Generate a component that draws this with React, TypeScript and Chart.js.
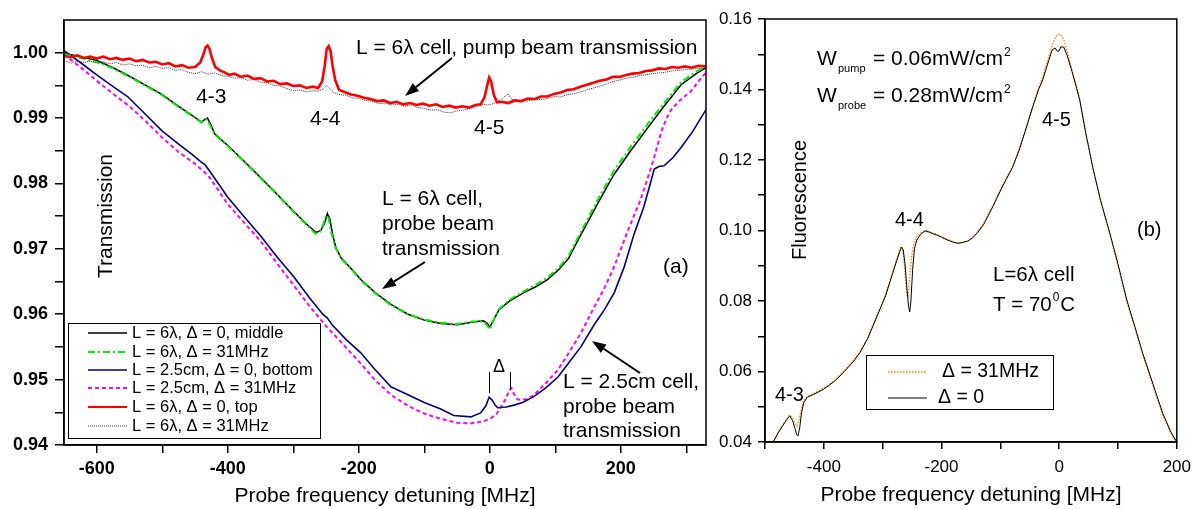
import React, { useEffect, useRef } from "react";
import { Chart, registerables } from "chart.js";
Chart.register(...registerables);

const FONT = '"Liberation Sans", Arial, Helvetica, sans-serif';

// ---------- Panel (a) data: [detuning MHz, transmission] ----------
const MIDDLE_6L_D0: [number, number][] = [
  [-650,0.9999],[-625,0.9994],[-600,0.9988],[-575,0.9977],[-550,0.9964],[-525,0.9950],[-500,0.9936],[-475,0.9918],[-450,0.9901],[-440,0.9894],
  [-435,0.9898],[-431,0.9900],[-426,0.9890],[-420,0.9876],[-400,0.9858],[-375,0.9834],[-350,0.9809],[-325,0.9784],[-300,0.9758],[-280,0.9738],
  [-265,0.9725],[-258,0.9728],[-252,0.9740],[-248,0.9754],[-244,0.9745],[-240,0.9722],[-235,0.9702],[-227,0.9686],[-210,0.9668],[-197,0.9653],
  [-175,0.9633],[-151,0.9615],[-125,0.9600],[-100,0.9591],[-75,0.9586],[-50,0.9584],[-25,0.9588],[-10,0.9590],[-4,0.9586],[0,0.9580],
  [4,0.9588],[14,0.9607],[30,0.9620],[52,0.9633],[70,0.9642],[88,0.9653],[105,0.9668],[120,0.9685],[135,0.9714],[150,0.9742],
  [165,0.9770],[189,0.9813],[215,0.9850],[241,0.9885],[265,0.9917],[292,0.9951],[315,0.9968],[330,0.9977]
];
const MIDDLE_6L_D31: [number, number][] = [
  [-650,0.9998],[-625,0.9992],[-600,0.9986],[-575,0.9976],[-550,0.9963],[-525,0.9949],[-500,0.9935],[-475,0.9917],[-450,0.9900],[-440,0.9893],
  [-436,0.9897],[-432,0.9898],[-427,0.9889],[-420,0.9875],[-400,0.9857],[-375,0.9833],[-350,0.9808],[-325,0.9783],[-300,0.9757],[-280,0.9737],
  [-266,0.9723],[-259,0.9726],[-254,0.9738],[-250,0.9751],[-246,0.9747],[-242,0.9725],[-236,0.9703],[-227,0.9685],[-210,0.9667],[-197,0.9652],
  [-175,0.9632],[-151,0.9614],[-125,0.9600],[-100,0.9592],[-75,0.9587],[-50,0.9585],[-25,0.9589],[-10,0.9589],[-4,0.9583],[0,0.9577],
  [4,0.9587],[14,0.9608],[30,0.9622],[52,0.9635],[70,0.9645],[88,0.9656],[105,0.9671],[120,0.9689],[135,0.9718],[150,0.9747],
  [165,0.9776],[189,0.9819],[215,0.9856],[241,0.9891],[265,0.9922],[292,0.9955],[315,0.9971],[330,0.9979]
];
const BOTTOM_25_D0: [number, number][] = [
  [-650,1.0003],[-625,0.9985],[-600,0.9966],[-575,0.9948],[-553,0.9933],[-525,0.9905],[-500,0.9880],[-475,0.9860],[-455,0.9845],[-441,0.9833],
  [-435,0.9829],[-430,0.9822],[-420,0.9808],[-400,0.9779],[-375,0.9749],[-350,0.9720],[-325,0.9688],[-299,0.9657],[-275,0.9625],[-255,0.9600],
  [-248,0.9594],[-240,0.9583],[-220,0.9562],[-197,0.9541],[-175,0.9515],[-151,0.9489],[-125,0.9477],[-100,0.9465],[-75,0.9455],[-55,0.9445],
  [-29,0.9443],[-14,0.9449],[-6,0.9460],[-1,0.9473],[4,0.9468],[8,0.9461],[12,0.9457],[25,0.9458],[37,0.9461],[50,0.9465],
  [67,0.9474],[85,0.9487],[104,0.9504],[120,0.9525],[139,0.9550],[160,0.9585],[175,0.9607],[190,0.9633],[205,0.9672],[220,0.9722],
  [235,0.9764],[245,0.9800],[251,0.9822],[258,0.9826],[266,0.9827],[280,0.9840],[292,0.9855],[310,0.9880],[330,0.9913]
];
const BOTTOM_25_D31: [number, number][] = [
  [-650,0.9997],[-625,0.9978],[-600,0.9957],[-575,0.9937],[-550,0.9918],[-525,0.9895],[-500,0.9870],[-475,0.9848],[-450,0.9830],[-441,0.9822],
  [-430,0.9812],[-420,0.9798],[-400,0.9768],[-375,0.9740],[-350,0.9712],[-325,0.9678],[-300,0.9645],[-275,0.9612],[-250,0.9582],[-225,0.9555],
  [-200,0.9528],[-175,0.9499],[-150,0.9476],[-125,0.9460],[-100,0.9448],[-75,0.9440],[-50,0.9434],[-30,0.9433],[-10,0.9436],[0,0.9440],
  [10,0.9447],[17,0.9458],[24,0.9470],[30,0.9484],[33,0.9487],[37,0.9478],[42,0.9470],[47,0.9469],[55,0.9470],[67,0.9476],
  [85,0.9494],[104,0.9515],[120,0.9540],[139,0.9571],[160,0.9612],[175,0.9640],[190,0.9673],[210,0.9726],[230,0.9775],[240,0.9805],
  [251,0.9840],[262,0.9880],[270,0.9900],[277,0.9913],[290,0.9927],[307,0.9941],[320,0.9958],[330,0.9970]
];
const TOP_6L_D0: [number, number][] = [
  [-650,0.9995],[-640,0.9993],[-630,0.9996],[-620,0.9992],[-610,0.9994],[-600,0.9991],[-590,0.9994],[-580,0.9990],[-570,0.9992],[-560,0.9989],
  [-550,0.9991],[-540,0.9987],[-530,0.9989],[-520,0.9985],[-510,0.9986],[-500,0.9982],[-490,0.9984],[-480,0.9979],[-470,0.9981],[-460,0.9977],
  [-450,0.9978],[-442,0.9985],[-437,0.9998],[-434,1.0008],[-431,1.0011],[-428,1.0006],[-424,0.9991],[-419,0.9978],[-412,0.9973],[-405,0.9970],
  [-398,0.9966],[-390,0.9968],[-380,0.9963],[-370,0.9965],[-360,0.9960],[-350,0.9961],[-340,0.9956],[-330,0.9957],[-320,0.9952],[-310,0.9953],
  [-300,0.9949],[-290,0.9950],[-280,0.9946],[-270,0.9948],[-262,0.9946],[-256,0.9956],[-252,0.9980],[-249,1.0006],[-246,1.0010],[-243,1.0002],
  [-240,0.9980],[-236,0.9958],[-230,0.9943],[-222,0.9940],[-212,0.9936],[-202,0.9934],[-192,0.9931],[-182,0.9929],[-172,0.9926],[-162,0.9927],
  [-152,0.9923],[-142,0.9925],[-132,0.9921],[-122,0.9923],[-112,0.9920],[-102,0.9922],[-92,0.9919],[-82,0.9921],[-72,0.9917],[-62,0.9919],
  [-52,0.9916],[-42,0.9918],[-32,0.9916],[-22,0.9920],[-14,0.9921],[-8,0.9932],[-4,0.9950],[-1,0.9962],[2,0.9956],[6,0.9936],
  [11,0.9924],[18,0.9925],[28,0.9923],[38,0.9927],[48,0.9926],[58,0.9930],[68,0.9929],[78,0.9933],[88,0.9933],[98,0.9937],
  [108,0.9939],[118,0.9943],[128,0.9944],[138,0.9948],[148,0.9951],[158,0.9954],[168,0.9957],[178,0.9959],[188,0.9963],[198,0.9963],
  [208,0.9966],[218,0.9968],[228,0.9969],[238,0.9972],[248,0.9973],[258,0.9976],[268,0.9975],[278,0.9978],[288,0.9977],[298,0.9979],
  [308,0.9977],[318,0.9980],[330,0.9979]
];
const TOP_6L_D31: [number, number][] = [
  [-650,0.9988],[-640,0.9984],[-630,0.9987],[-620,0.9985],[-610,0.9987],[-600,0.9984],[-590,0.9986],[-580,0.9983],[-570,0.9985],[-560,0.9981],
  [-550,0.9983],[-540,0.9980],[-530,0.9981],[-520,0.9977],[-510,0.9979],[-500,0.9976],[-490,0.9977],[-480,0.9973],[-470,0.9974],[-460,0.9970],
  [-450,0.9968],[-440,0.9971],[-430,0.9967],[-420,0.9969],[-410,0.9965],[-400,0.9964],[-390,0.9961],[-380,0.9962],[-370,0.9958],[-360,0.9959],
  [-350,0.9955],[-340,0.9954],[-330,0.9950],[-320,0.9949],[-310,0.9945],[-300,0.9942],[-290,0.9943],[-280,0.9940],[-270,0.9942],[-262,0.9941],
  [-255,0.9944],[-249,0.9950],[-244,0.9945],[-238,0.9939],[-230,0.9936],[-220,0.9935],[-210,0.9931],[-200,0.9930],[-190,0.9927],[-180,0.9926],
  [-170,0.9922],[-160,0.9923],[-150,0.9920],[-140,0.9921],[-130,0.9918],[-120,0.9920],[-110,0.9916],[-100,0.9915],[-90,0.9912],[-80,0.9913],
  [-70,0.9909],[-60,0.9908],[-50,0.9911],[-40,0.9912],[-30,0.9915],[-20,0.9918],[-10,0.9921],[0,0.9920],[10,0.9924],[18,0.9929],
  [24,0.9934],[28,0.9937],[32,0.9931],[38,0.9925],[48,0.9927],[58,0.9926],[68,0.9929],[78,0.9928],[88,0.9930],[98,0.9933],
  [108,0.9932],[118,0.9936],[128,0.9937],[138,0.9940],[148,0.9943],[158,0.9946],[168,0.9949],[178,0.9952],[188,0.9956],[198,0.9958],
  [208,0.9961],[218,0.9962],[228,0.9965],[238,0.9966],[248,0.9968],[258,0.9969],[268,0.9970],[278,0.9972],[288,0.9973],[298,0.9974],
  [308,0.9975],[318,0.9976],[330,0.9977]
];

// ---------- Panel (b) data: [detuning MHz, fluorescence] ----------
const FLUO_D0: [number, number][] = [
  [-486,0.0400],[-478,0.0425],[-470,0.0446],[-462,0.0466],[-458,0.0474],[-453,0.0460],[-449,0.0438],[-446,0.0420],[-444,0.0417],[-441,0.0440],
  [-438,0.0482],[-434,0.0512],[-428,0.0527],[-415,0.0537],[-400,0.0550],[-390,0.0562],[-380,0.0575],[-365,0.0600],[-350,0.0628],[-339,0.0652],
  [-325,0.0695],[-310,0.0755],[-295,0.0815],[-283,0.0879],[-276,0.0915],[-271,0.0940],[-268,0.0953],[-265,0.0945],[-262,0.0905],[-259,0.0840],
  [-256,0.0785],[-254,0.0769],[-252,0.0800],[-249,0.0890],[-246,0.0948],[-242,0.0973],[-236,0.0988],[-228,0.0999],[-222,0.0996],[-215,0.0991],
  [-208,0.0987],[-200,0.0981],[-190,0.0973],[-180,0.0967],[-172,0.0964],[-165,0.0966],[-155,0.0970],[-147,0.0979],[-138,0.0995],[-128,0.1018],
  [-113,0.1067],[-100,0.1112],[-90,0.1145],[-79,0.1180],[-68,0.1228],[-58,0.1280],[-45,0.1350],[-35,0.1400],[-28,0.1427],[-20,0.1470],
  [-12,0.1512],[-7,0.1518],[-3,0.1508],[0,0.1510],[3,0.1521],[8,0.1520],[14,0.1495],[22,0.1450],[30,0.1402],[35,0.1370],
  [45,0.1278],[57,0.1180],[70,0.1088],[86,0.0993],[100,0.0905],[115,0.0803],[130,0.0720],[142,0.0652],[160,0.0562],[176,0.0482],
  [190,0.0428],[200,0.0400]
];
const FLUO_D31: [number, number][] = [
  [-486,0.0400],[-478,0.0427],[-470,0.0448],[-462,0.0468],[-458,0.0477],[-453,0.0468],[-449,0.0452],[-446,0.0446],[-443,0.0456],[-439,0.0488],
  [-435,0.0515],[-428,0.0530],[-415,0.0540],[-400,0.0553],[-390,0.0565],[-380,0.0578],[-365,0.0603],[-350,0.0631],[-339,0.0655],[-325,0.0698],
  [-310,0.0758],[-295,0.0818],[-283,0.0882],[-276,0.0920],[-271,0.0948],[-268,0.0955],[-265,0.0935],[-262,0.0880],[-259,0.0818],[-257,0.0812],
  [-255,0.0850],[-251,0.0925],[-247,0.0965],[-242,0.0982],[-236,0.0993],[-228,0.1000],[-222,0.0998],[-215,0.0993],[-208,0.0989],[-200,0.0982],
  [-190,0.0975],[-180,0.0968],[-172,0.0962],[-165,0.0965],[-155,0.0971],[-147,0.0981],[-138,0.0998],[-128,0.1021],[-113,0.1070],[-100,0.1115],
  [-90,0.1148],[-79,0.1183],[-68,0.1231],[-58,0.1283],[-45,0.1353],[-35,0.1405],[-28,0.1435],[-20,0.1480],[-12,0.1525],[-7,0.1545],
  [-3,0.1556],[0,0.1557],[3,0.1555],[8,0.1540],[14,0.1505],[22,0.1455],[30,0.1405],[35,0.1372],[45,0.1280],[57,0.1180],
  [70,0.1086],[86,0.0990],[100,0.0900],[115,0.0798],[130,0.0715],[142,0.0647],[160,0.0556],[176,0.0476],[190,0.0424],[200,0.0398]
];

// ---------- Ticks ----------
const A_X_TICKS = [-600, -500, -400, -300, -200, -100, 0, 100, 200, 300];
const A_Y_TICKS = [0.94, 0.945, 0.95, 0.955, 0.96, 0.965, 0.97, 0.975, 0.98, 0.985, 0.99, 0.995, 1.0];
const B_X_TICKS = [-500, -400, -300, -200, -100, 0, 100, 200];
const B_Y_TICKS = [0.04, 0.05, 0.06, 0.07, 0.08, 0.09, 0.10, 0.11, 0.12, 0.13, 0.14, 0.15, 0.16];

const LEGEND_A = [
  "L = 6\u03bb, \u0394 = 0, middle",
  "L = 6\u03bb, \u0394 = 31MHz",
  "L = 2.5cm, \u0394 = 0, bottom",
  "L = 2.5cm, \u0394 = 31MHz",
  "L = 6\u03bb, \u0394 = 0, top",
  "L = 6\u03bb, \u0394 = 31MHz",
];
const LEGEND_B = ["\u0394 = 31MHz", "\u0394 = 0"];

const pts = (a: [number, number][]) => a.map(([x, y]) => ({ x, y }));

function font(size: number, bold = false) {
  return `${bold ? "bold " : ""}${size}px ${FONT}`;
}
function text(ctx: CanvasRenderingContext2D, s: string, x: number, y: number, size: number, align: CanvasTextAlign = "left", base: CanvasTextBaseline = "middle") {
  ctx.font = font(size);
  ctx.textAlign = align;
  ctx.textBaseline = base;
  ctx.fillStyle = "#000";
  ctx.fillText(s, x, y);
  return ctx.measureText(s).width;
}
function arrow(ctx: CanvasRenderingContext2D, x1: number, y1: number, x2: number, y2: number) {
  const ang = Math.atan2(y2 - y1, x2 - x1);
  const L = 14, W = 5;
  const bx = x2 - L * Math.cos(ang), by = y2 - L * Math.sin(ang);
  ctx.strokeStyle = "#000";
  ctx.lineWidth = 2;
  ctx.setLineDash([]);
  ctx.beginPath();
  ctx.moveTo(x1, y1);
  ctx.lineTo(bx, by);
  ctx.stroke();
  ctx.fillStyle = "#000";
  ctx.beginPath();
  ctx.moveTo(x2, y2);
  ctx.lineTo(bx + W * Math.sin(ang), by - W * Math.cos(ang));
  ctx.lineTo(bx - W * Math.sin(ang), by + W * Math.cos(ang));
  ctx.closePath();
  ctx.fill();
}
function seg(ctx: CanvasRenderingContext2D, x1: number, x2: number, y: number, color: string, w: number, dash: number[]) {
  ctx.strokeStyle = color;
  ctx.lineWidth = w;
  ctx.setLineDash(dash);
  ctx.beginPath();
  ctx.moveTo(x1, y);
  ctx.lineTo(x2, y);
  ctx.stroke();
  ctx.setLineDash([]);
}

const STYLE_A = [
  { color: "#000000", w: 1.5, dash: [] as number[] },
  { color: "#00ee00", w: 2, dash: [7, 3, 2, 3] },
  { color: "#000080", w: 1.6, dash: [] as number[] },
  { color: "#ff00ff", w: 2, dash: [4, 3] },
  { color: "#ff0000", w: 2.6, dash: [] as number[] },
  { color: "#000000", w: 0.8, dash: [1, 1] },
];

const annotA = {
  id: "annotA",
  afterDatasetsDraw(chart: any) {
    const ctx: CanvasRenderingContext2D = chart.ctx;
    const a = chart.chartArea;
    ctx.save();
    ctx.strokeStyle = "#000";
    ctx.lineWidth = 1.5;
    ctx.strokeRect(a.left, a.top, a.right - a.left, a.bottom - a.top);

    text(ctx, "Probe frequency detuning [MHz]", (a.left + a.right) / 2, 496, 21, "center");
    ctx.save();
    ctx.translate(106, 216);
    ctx.rotate(-Math.PI / 2);
    text(ctx, "Transmission", 0, 0, 21, "center");
    ctx.restore();

    text(ctx, "L = 6\u03bb cell, pump beam transmission", 356, 48, 21);
    arrow(ctx, 452, 58, 405, 96);
    text(ctx, "4-3", 196, 97, 21);
    text(ctx, "4-4", 310, 119, 21);
    text(ctx, "4-5", 474, 128, 21);
    text(ctx, "L = 6\u03bb cell,", 382, 199, 21);
    text(ctx, "probe beam", 382, 224, 21);
    text(ctx, "transmission", 382, 249, 21);
    arrow(ctx, 425, 262, 382, 289);
    text(ctx, "(a)", 663, 267, 21);
    text(ctx, "\u0394", 499, 367, 18, "center");
    ctx.strokeStyle = "#000";
    ctx.lineWidth = 1;
    ctx.beginPath();
    ctx.moveTo(489.5, 372); ctx.lineTo(489.5, 393);
    ctx.moveTo(510.5, 372); ctx.lineTo(510.5, 390);
    ctx.stroke();
    text(ctx, "L = 2.5cm cell,", 563, 382, 21);
    text(ctx, "probe beam", 563, 407, 21);
    text(ctx, "transmission", 563, 431, 21);
    arrow(ctx, 640, 373, 592, 341);

    // legend
    ctx.fillStyle = "#fff";
    ctx.fillRect(68, 323, 252, 115);
    ctx.strokeStyle = "#000";
    ctx.lineWidth = 1;
    ctx.strokeRect(68.5, 323.5, 252, 115);
    const rows = [333, 352, 370, 388, 407, 426];
    LEGEND_A.forEach((lab, i) => {
      const st = STYLE_A[i];
      seg(ctx, 88, 127, rows[i], st.color, Math.min(st.w, 2.2), st.dash);
      text(ctx, lab, 132, rows[i], 16.5);
    });
    ctx.restore();
  },
};

const OFFB = 715;
const annotB = {
  id: "annotB",
  afterDatasetsDraw(chart: any) {
    const ctx: CanvasRenderingContext2D = chart.ctx;
    const a = chart.chartArea;
    ctx.save();
    ctx.strokeStyle = "#000";
    ctx.lineWidth = 1.5;
    ctx.strokeRect(a.left, a.top, a.right - a.left, a.bottom - a.top);
    ctx.translate(-OFFB, 0);

    text(ctx, "Probe frequency detuning [MHz]", 971, 495, 21, "center");
    ctx.save();
    ctx.translate(800, 200);
    ctx.rotate(-Math.PI / 2);
    text(ctx, "Fluorescence", 0, 0, 20, "center");
    ctx.restore();

    // W lines
    const wl = (y: number, sub: string, val: string) => {
      text(ctx, "W", 817, y, 21, "left", "alphabetic");
      text(ctx, sub, 838, y + 7, 11, "left", "alphabetic");
      const w = text(ctx, val, 873, y, 21, "left", "alphabetic");
      text(ctx, "2", 873 + w + 1, y - 9, 12, "left", "alphabetic");
    };
    wl(65, "pump", "= 0.06mW/cm");
    wl(102, "probe", "= 0.28mW/cm");

    text(ctx, "4-5", 1042, 120, 20);
    text(ctx, "4-4", 895, 220, 20);
    text(ctx, "4-3", 775, 395, 20);
    text(ctx, "(b)", 1137, 230, 20);
    text(ctx, "L=6\u03bb cell", 993, 275, 20.5);
    const tw = text(ctx, "T = 70", 993, 311, 20.5, "left", "alphabetic");
    const sw = text(ctx, "0", 993 + tw + 1, 301, 12, "left", "alphabetic");
    text(ctx, "C", 993 + tw + sw + 2, 311, 20.5, "left", "alphabetic");

    // legend
    ctx.fillStyle = "#fff";
    ctx.fillRect(866, 355, 187, 54);
    ctx.strokeStyle = "#000";
    ctx.lineWidth = 1;
    ctx.strokeRect(866.5, 355.5, 187, 54);
    seg(ctx, 888, 927, 372, "#ff8000", 1.3, [1.5, 1.5]);
    text(ctx, LEGEND_B[0], 942, 372, 19.5);
    seg(ctx, 888, 927, 398, "#000000", 1, []);
    text(ctx, LEGEND_B[1], 938, 398, 19.5);
    ctx.restore();
  },
};

function axisCommon(tickLen: number) {
  return {
    type: "linear" as const,
    grid: { drawOnChartArea: false, drawTicks: true, tickLength: tickLen, color: "#000", lineWidth: 1.5 },
    border: { display: true, color: "#000", width: 1.5 },
  };
}

export default function App() {
  const refA = useRef<HTMLCanvasElement>(null);
  const refB = useRef<HTMLCanvasElement>(null);

  useEffect(() => {
    const ds = (data: [number, number][], i: number, order: number) => ({
      data: pts(data),
      borderColor: STYLE_A[i].color,
      borderWidth: STYLE_A[i].w,
      borderDash: STYLE_A[i].dash,
      pointRadius: 0,
      fill: false,
      tension: 0,
      order,
    });
    const chartA = new Chart(refA.current!, {
      type: "line",
      data: {
        datasets: [
          ds(BOTTOM_25_D31, 3, 6),
          ds(BOTTOM_25_D0, 2, 5),
          ds(MIDDLE_6L_D0, 0, 4),
          ds(MIDDLE_6L_D31, 1, 3),
          ds(TOP_6L_D31, 5, 2),
          ds(TOP_6L_D0, 4, 1),
        ],
      },
      options: {
        responsive: false,
        animation: false,
        events: [],
        layout: { padding: { top: 20, right: 14, left: 0, bottom: 0 } },
        plugins: { legend: { display: false }, tooltip: { enabled: false } },
        scales: {
          x: {
            ...axisCommon(8),
            min: -650,
            max: 330,
            afterFit: (s: any) => { s.height = 64; },
            afterBuildTicks: (s: any) => { s.ticks = A_X_TICKS.map((v) => ({ value: v })); },
            ticks: {
              autoSkip: false, maxRotation: 0, padding: 5, color: "#000",
              font: { family: FONT, size: 18, weight: "bold" },
              callback: (v: any) => (Math.round(v) % 200 === 0 ? String(v) : ""),
            },
          },
          y: {
            ...axisCommon(9),
            min: 0.94,
            max: 1.005,
            afterFit: (s: any) => { s.width = 64; },
            afterBuildTicks: (s: any) => { s.ticks = A_Y_TICKS.map((v) => ({ value: v })); },
            ticks: {
              autoSkip: false, padding: 7, color: "#000",
              font: { family: FONT, size: 18, weight: "bold" },
              callback: (v: any) => (Math.round(v * 1000) % 10 === 0 ? Number(v).toFixed(2) : ""),
            },
          },
        },
      },
      plugins: [annotA],
    } as any);

    const chartB = new Chart(refB.current!, {
      type: "line",
      data: {
        datasets: [
          { data: pts(FLUO_D0), borderColor: "#000", borderWidth: 1, pointRadius: 0, tension: 0, order: 1 },
          { data: pts(FLUO_D31), borderColor: "#ff8000", borderWidth: 1.3, borderDash: [1.5, 1.5], pointRadius: 0, tension: 0, order: 2 },
        ],
      },
      options: {
        responsive: false,
        animation: false,
        events: [],
        layout: { padding: { top: 19, right: 22, left: 0, bottom: 0 } },
        plugins: { legend: { display: false }, tooltip: { enabled: false } },
        scales: {
          x: {
            ...axisCommon(7),
            min: -500,
            max: 200,
            afterFit: (s: any) => { s.height = 67; },
            afterBuildTicks: (s: any) => { s.ticks = B_X_TICKS.map((v) => ({ value: v })); },
            ticks: {
              autoSkip: false, maxRotation: 0, padding: 8, color: "#000",
              font: { family: FONT, size: 17 },
              callback: (v: any) => (Math.round(v) % 200 === 0 ? String(v) : ""),
            },
          },
          y: {
            ...axisCommon(7),
            min: 0.04,
            max: 0.16,
            afterFit: (s: any) => { s.width = 50; },
            afterBuildTicks: (s: any) => { s.ticks = B_Y_TICKS.map((v) => ({ value: v })); },
            ticks: {
              autoSkip: false, padding: 6, color: "#000",
              font: { family: FONT, size: 17 },
              callback: (v: any) => (Math.round(v * 100) % 2 === 0 ? Number(v).toFixed(2) : ""),
            },
          },
        },
      },
      plugins: [annotB],
    } as any);

    return () => {
      chartA.destroy();
      chartB.destroy();
    };
  }, []);

  return (
    <div style={{ position: "absolute", left: 0, top: 0, width: 1199, height: 509, background: "#fff", overflow: "hidden" }}>
      <canvas ref={refA} width={720} height={509} style={{ position: "absolute", left: 0, top: 0 }} />
      <canvas ref={refB} width={484} height={509} style={{ position: "absolute", left: OFFB, top: 0 }} />
    </div>
  );
}
